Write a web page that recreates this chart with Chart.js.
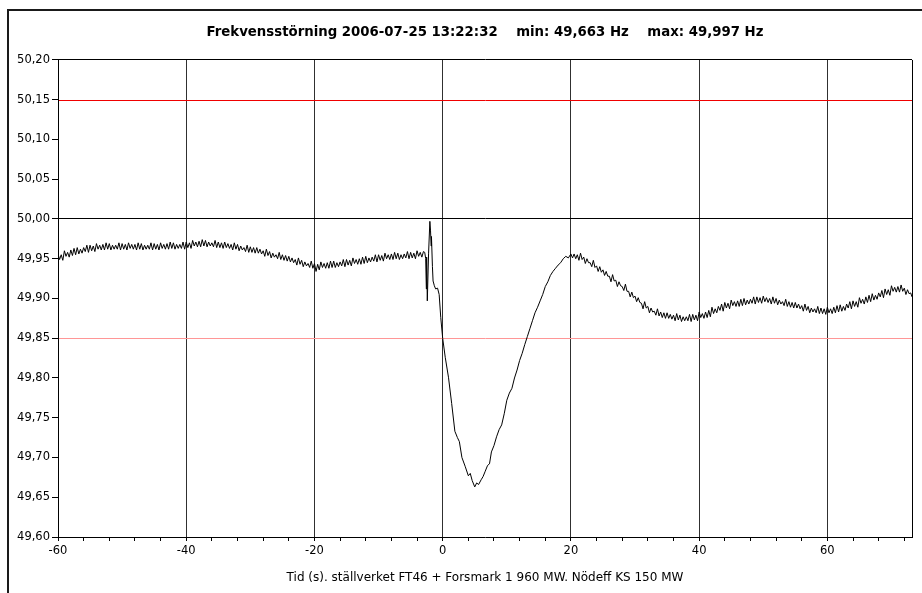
<!DOCTYPE html>
<html><head><meta charset="utf-8">
<script src="https://cdn.jsdelivr.net/npm/chart.js@4.4.0/dist/chart.umd.min.js"></script>
<style>html,body{margin:0;padding:0;background:#fff;}</style>
</head><body>
<canvas id="c" width="922" height="593"></canvas>
<script>
const chartTitle = 'Frekvensstörning 2006-07-25 13:22:32    min: 49,663 Hz    max: 49,997 Hz';
const xAxisTitle = 'Tid (s). ställverket FT46 + Forsmark 1 960 MW. Nödeff KS 150 MW';

const yTickValues = [49.60,49.65,49.70,49.75,49.80,49.85,49.90,49.95,50.00,50.05,50.10,50.15,50.20];
const xTickValues = [-60,-56,-52,-48,-44,-40,-36,-32,-28,-24,-20,-16,-12,-8,-4,0,4,8,12,16,20,24,28,32,36,40,44,48,52,56,60,64,68,72];
const xLabelValues = [-60,-40,-20,0,20,40,60];
const upperLimitHz = 50.15;
const nominalHz = 50.00;
const lowerLimitHz = 49.85;

const preTime = [
-60,-59.75,-59.5,-59.25, -59,-58.75,-58.5,-58.25, -58,-57.75,-57.5,-57.25, -57,-56.75,-56.5,-56.25,
-56,-55.75,-55.5,-55.25, -55,-54.75,-54.5,-54.25, -54,-53.75,-53.5,-53.25, -53,-52.75,-52.5,-52.25,
-52,-51.75,-51.5,-51.25, -51,-50.75,-50.5,-50.25, -50,-49.75,-49.5,-49.25, -49,-48.75,-48.5,-48.25,
-48,-47.75,-47.5,-47.25, -47,-46.75,-46.5,-46.25, -46,-45.75,-45.5,-45.25, -45,-44.75,-44.5,-44.25,
-44,-43.75,-43.5,-43.25, -43,-42.75,-42.5,-42.25, -42,-41.75,-41.5,-41.25, -41,-40.75,-40.5,-40.25,
-40,-39.75,-39.5,-39.25, -39,-38.75,-38.5,-38.25, -38,-37.75,-37.5,-37.25, -37,-36.75,-36.5,-36.25,
-36,-35.75,-35.5,-35.25, -35,-34.75,-34.5,-34.25, -34,-33.75,-33.5,-33.25, -33,-32.75,-32.5,-32.25,
-32,-31.75,-31.5,-31.25, -31,-30.75,-30.5,-30.25, -30,-29.75,-29.5,-29.25, -29,-28.75,-28.5,-28.25,
-28,-27.75,-27.5,-27.25, -27,-26.75,-26.5,-26.25, -26,-25.75,-25.5,-25.25, -25,-24.75,-24.5,-24.25,
-24,-23.75,-23.5,-23.25, -23,-22.75,-22.5,-22.25, -22,-21.75,-21.5,-21.25, -21,-20.75,-20.5,-20.25,
-20,-19.75,-19.5,-19.25, -19,-18.75,-18.5,-18.25, -18,-17.75,-17.5,-17.25, -17,-16.75,-16.5,-16.25,
-16,-15.75,-15.5,-15.25, -15,-14.75,-14.5,-14.25, -14,-13.75,-13.5,-13.25, -13,-12.75,-12.5,-12.25,
-12,-11.75,-11.5,-11.25, -11,-10.75,-10.5,-10.25, -10,-9.75,-9.5,-9.25, -9,-8.75,-8.5,-8.25,
-8,-7.75,-7.5,-7.25, -7,-6.75,-6.5,-6.25, -6,-5.75,-5.5,-5.25, -5,-4.75,-4.5,-4.25,
-4,-3.75,-3.5,-3.25, -3];
const preFreq = [
49.956,49.949,49.955,49.948, 49.960,49.953,49.958,49.952, 49.961,49.954,49.963,49.955, 49.964,49.956,49.962,49.957,
49.964,49.959,49.967,49.958, 49.967,49.960,49.966,49.959, 49.969,49.962,49.967,49.961, 49.968,49.961,49.970,49.962,
49.969,49.961,49.967,49.962, 49.967,49.962,49.970,49.961, 49.969,49.962,49.968,49.961, 49.970,49.963,49.968,49.962,
49.968,49.961,49.970,49.962, 49.969,49.961,49.967,49.962, 49.967,49.962,49.970,49.961, 49.969,49.962,49.968,49.961,
49.970,49.963,49.968,49.962, 49.969,49.962,49.971,49.963, 49.970,49.962,49.968,49.963, 49.968,49.963,49.971,49.962,
49.971,49.964,49.970,49.963, 49.973,49.966,49.971,49.965, 49.972,49.965,49.974,49.966, 49.973,49.965,49.971,49.966,
49.970,49.965,49.973,49.964, 49.971,49.964,49.970,49.963, 49.971,49.964,49.969,49.963, 49.968,49.961,49.970,49.962,
49.968,49.960,49.966,49.961, 49.964,49.959,49.967,49.958, 49.965,49.958,49.964,49.957, 49.964,49.957,49.962,49.956,
49.960,49.953,49.962,49.954, 49.959,49.951,49.957,49.952, 49.955,49.950,49.958,49.949, 49.955,49.948,49.954,49.947,
49.953,49.946,49.951,49.945, 49.949,49.942,49.951,49.943, 49.948,49.940,49.946,49.941, 49.944,49.939,49.947,49.938,
49.944,49.934,49.943,49.936, 49.946,49.939,49.944,49.938, 49.945,49.938,49.947,49.939, 49.947,49.939,49.945,49.940,
49.946,49.941,49.949,49.940, 49.949,49.942,49.948,49.941, 49.951,49.944,49.949,49.943, 49.950,49.943,49.952,49.944,
49.953,49.945,49.951,49.946, 49.952,49.947,49.955,49.946, 49.955,49.948,49.954,49.947, 49.957,49.950,49.955,49.949,
49.956,49.949,49.958,49.950, 49.957,49.949,49.955,49.950, 49.956,49.951,49.959,49.950, 49.958,49.951,49.957,49.950,
49.960,49.953,49.958,49.952, 49.959];

const eventTime = [
-2.8,-2.65,-2.55,-2.5,-2.4,-2.2,-2.0,-1.9,-1.8,-1.75,-1.6,-1.5,-1.3,-1.1,-0.8,-0.55,-0.3,0,
0.4,0.9,1.4,1.9,2.3,2.6,3.0,3.5,4.0,4.3,
4.6,5.0,5.3,5.6,6.0,6.3,6.6,7.0,7.3,7.6,
8.0,8.4,8.8,9.2,9.6,10.0,10.4,10.8,11.2,11.6,
12.0,12.4,12.8,13.2,13.6,14.0,14.4,14.8,15.2,15.6,
16.0,16.4,16.8,17.2,17.6,18.0,18.4,18.8,19.2,19.6,20.0];
const eventFreq = [
49.958,49.950,49.912,49.952,49.897,49.957,49.997,49.986,49.966,49.978,49.940,49.922,49.916,49.912,49.913,49.905,49.876,49.850,
49.826,49.801,49.768,49.733,49.725,49.720,49.700,49.689,49.677,49.680,
49.671,49.663,49.668,49.666,49.672,49.676,49.682,49.690,49.692,49.707,
49.715,49.726,49.735,49.741,49.755,49.772,49.781,49.787,49.800,49.810,
49.822,49.831,49.842,49.852,49.862,49.872,49.882,49.889,49.897,49.905,
49.915,49.921,49.929,49.934,49.938,49.942,49.945,49.950,49.953,49.951,49.956];

const postTime = [
20.25,20.5,20.75,
21,21.25,21.5,21.75, 22,22.25,22.5,22.75, 23,23.25,23.5,23.75, 24,24.25,24.5,24.75,
25,25.25,25.5,25.75, 26,26.25,26.5,26.75, 27,27.25,27.5,27.75, 28,28.25,28.5,28.75,
29,29.25,29.5,29.75, 30,30.25,30.5,30.75, 31,31.25,31.5,31.75, 32,32.25,32.5,32.75,
33,33.25,33.5,33.75, 34,34.25,34.5,34.75, 35,35.25,35.5,35.75, 36,36.25,36.5,36.75,
37,37.25,37.5,37.75, 38,38.25,38.5,38.75, 39,39.25,39.5,39.75, 40,40.25,40.5,40.75,
41,41.25,41.5,41.75, 42,42.25,42.5,42.75, 43,43.25,43.5,43.75, 44,44.25,44.5,44.75,
45,45.25,45.5,45.75, 46,46.25,46.5,46.75, 47,47.25,47.5,47.75, 48,48.25,48.5,48.75,
49,49.25,49.5,49.75, 50,50.25,50.5,50.75, 51,51.25,51.5,51.75, 52,52.25,52.5,52.75,
53,53.25,53.5,53.75, 54,54.25,54.5,54.75, 55,55.25,55.5,55.75, 56,56.25,56.5,56.75,
57,57.25,57.5,57.75, 58,58.25,58.5,58.75, 59,59.25,59.5,59.75, 60,60.25,60.5,60.75,
61,61.25,61.5,61.75, 62,62.25,62.5,62.75, 63,63.25,63.5,63.75, 64,64.25,64.5,64.75,
65,65.25,65.5,65.75, 66,66.25,66.5,66.75, 67,67.25,67.5,67.75, 68,68.25,68.5,68.75,
69,69.25,69.5,69.75, 70,70.25,70.5,70.75, 71,71.25,71.5,71.75, 72,72.25,72.5,72.75,
73,73.2];
const postFreq = [
49.951,49.956,49.950,
49.955,49.948,49.957,49.949, 49.952,49.944,49.950,49.945, 49.945,49.940,49.948,49.939, 49.941,49.934,49.940,49.933,
49.936,49.929,49.934,49.928, 49.928,49.921,49.930,49.922, 49.923,49.915,49.921,49.916, 49.915,49.910,49.918,49.909,
49.909,49.902,49.908,49.901, 49.903,49.896,49.901,49.895, 49.894,49.887,49.896,49.888, 49.890,49.882,49.888,49.883,
49.884,49.879,49.887,49.878, 49.883,49.876,49.882,49.875, 49.882,49.875,49.880,49.874, 49.879,49.872,49.881,49.873,
49.879,49.871,49.877,49.872, 49.877,49.872,49.880,49.871, 49.880,49.873,49.879,49.872, 49.883,49.876,49.881,49.875,
49.883,49.876,49.885,49.877, 49.889,49.881,49.887,49.882, 49.890,49.885,49.893,49.884, 49.895,49.888,49.894,49.887,
49.898,49.891,49.896,49.890, 49.897,49.890,49.899,49.891, 49.900,49.892,49.898,49.893, 49.899,49.894,49.902,49.893,
49.902,49.895,49.901,49.894, 49.903,49.896,49.901,49.895, 49.900,49.893,49.902,49.894, 49.900,49.892,49.898,49.893,
49.896,49.891,49.899,49.890, 49.896,49.889,49.895,49.888, 49.895,49.888,49.893,49.887, 49.891,49.884,49.893,49.885,
49.890,49.882,49.888,49.883, 49.887,49.882,49.890,49.881, 49.888,49.881,49.887,49.880, 49.889,49.882,49.887,49.881,
49.889,49.882,49.891,49.883, 49.892,49.884,49.890,49.885, 49.893,49.888,49.896,49.887, 49.897,49.890,49.896,49.889,
49.901,49.894,49.899,49.893, 49.902,49.895,49.904,49.896, 49.906,49.898,49.904,49.899, 49.907,49.902,49.910,49.901,
49.912,49.905,49.911,49.904, 49.916,49.909,49.914,49.908, 49.915,49.908,49.917,49.909, 49.913,49.905,49.911,49.906,
49.907,49.902];

const timeS = preTime.concat(eventTime, postTime);
const freqHz = preFreq.concat(eventFreq, postFreq);
const points = timeS.map((t, i) => ({x: t, y: freqHz[i]}));

const near = (a, b) => a !== undefined && Math.abs(a - b) < 1e-6;
const FONT = '"DejaVu Sans", Verdana, sans-serif';

const framePlugin = {
  id: 'frame',
  beforeDraw(chart) {
    const c = chart.ctx;
    c.save();
    c.fillStyle = '#fff';
    c.fillRect(0, 0, chart.width, chart.height);
    c.strokeStyle = '#1a1a1a';
    c.lineWidth = 2;
    c.beginPath();
    c.moveTo(8, chart.height);
    c.lineTo(8, 10);
    c.lineTo(chart.width, 10);
    c.stroke();
    c.restore();
  },
  beforeDatasetsDraw(chart) {
    const a = chart.chartArea;
    const y = chart.scales.y;
    const c = chart.ctx;
    c.save();
    c.lineWidth = 1;
    [[upperLimitHz, 'rgb(240,0,0)'], [lowerLimitHz, 'rgb(255,150,150)']].forEach(([v, col]) => {
      const py = Math.round(y.getPixelForValue(v)) + 0.5;
      c.strokeStyle = col;
      c.beginPath();
      c.moveTo(a.left + 1, py);
      c.lineTo(a.right, py);
      c.stroke();
    });
    c.restore();
  },
  afterDraw(chart) {
    const a = chart.chartArea;
    const c = chart.ctx;
    c.save();
    c.strokeStyle = '#000';
    c.lineWidth = 1;
    c.beginPath();
    c.moveTo(Math.round(a.right) + 0.5, a.top);
    c.lineTo(Math.round(a.right) + 0.5, a.bottom);
    c.stroke();
    c.restore();
  }
};

Chart.defaults.font.family = FONT;
Chart.defaults.font.size = 11.5;
Chart.defaults.color = '#000';

new Chart(document.getElementById('c'), {
  type: 'line',
  data: {
    datasets: [{
      data: points,
      borderColor: '#000',
      borderWidth: 1,
      pointRadius: 0,
      tension: 0,
      fill: false
    }]
  },
  options: {
    responsive: false,
    animation: false,
    events: [],
    layout: { padding: { top: 0, left: 0, right: 10, bottom: 0 } },
    plugins: {
      legend: { display: false },
      tooltip: { enabled: false },
      title: {
        display: true,
        text: chartTitle,
        fullSize: false,
        color: '#000',
        font: { family: FONT, size: 13.3, weight: 'bold', lineHeight: 1.2 },
        padding: { top: 25, bottom: 19 }
      }
    },
    scales: {
      x: {
        type: 'linear',
        min: -60,
        max: 73.2,
        afterBuildTicks(scale) { scale.ticks = xTickValues.map(v => ({value: v})); },
        afterFit(scale) { scale.height = 56; },
        ticks: {
          autoSkip: false,
          maxRotation: 0,
          padding: 3,
          color: '#000',
          font: { size: 11.5 },
          callback: v => xLabelValues.some(l => near(l, v)) ? String(v) : ''
        },
        grid: {
          color: ctx => (ctx.tick && xLabelValues.some(l => near(l, ctx.tick.value))) ? '#303030' : 'rgba(0,0,0,0)',
          tickColor: '#000',
          tickLength: 4,
          lineWidth: 1
        },
        border: { display: true, color: '#000', width: 1 },
        title: {
          display: true,
          text: xAxisTitle,
          color: '#000',
          font: { size: 12 },
          padding: { top: 0, bottom: 8 }
        }
      },
      y: {
        type: 'linear',
        min: 49.6,
        max: 50.2,
        afterBuildTicks(scale) { scale.ticks = yTickValues.map(v => ({value: v})); },
        afterFit(scale) { scale.width = 58; },
        ticks: {
          padding: 2,
          color: '#000',
          font: { size: 11.5 },
          callback: v => Number(v).toFixed(2).replace('.', ',')
        },
        grid: {
          color: ctx => {
            const v = ctx.tick ? ctx.tick.value : undefined;
            if (near(v, 50.2) || near(v, nominalHz)) return '#000';
            return 'rgba(0,0,0,0)';
          },
          tickColor: '#000',
          tickLength: 6,
          lineWidth: 1
        },
        border: { display: true, color: '#000', width: 1 }
      }
    }
  },
  plugins: [framePlugin]
});
</script>
</body></html>
